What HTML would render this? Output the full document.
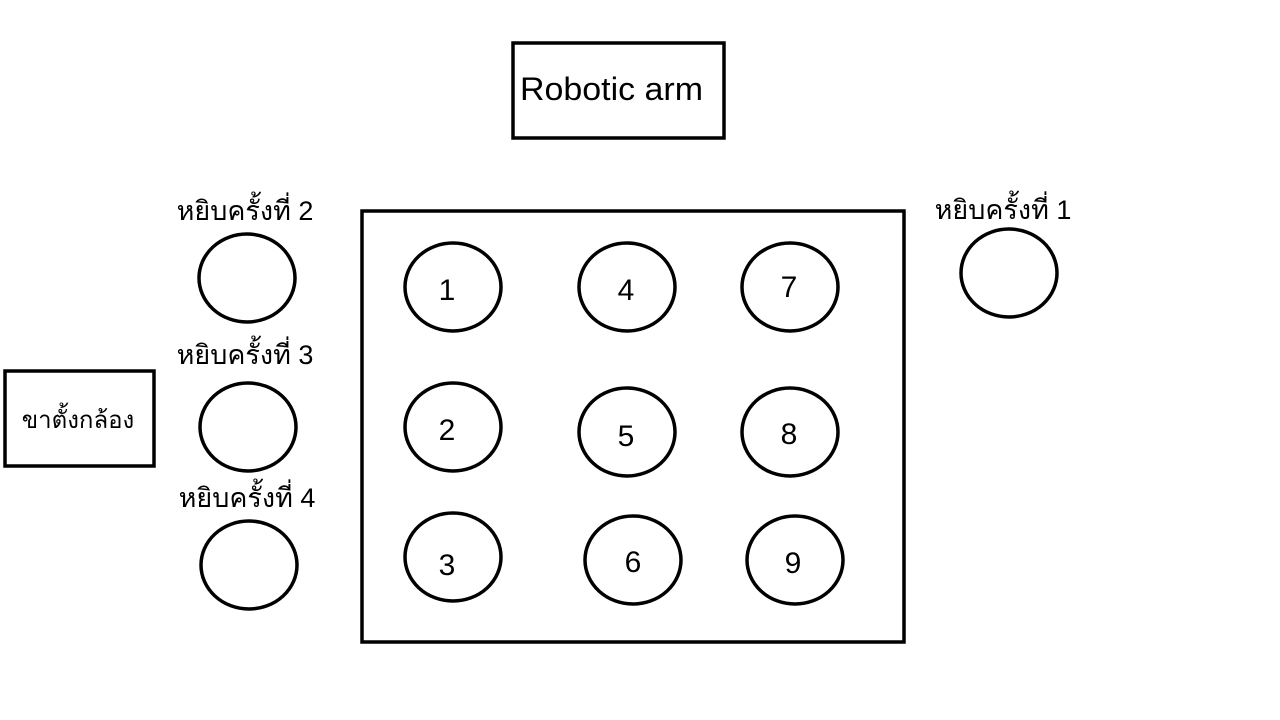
<!DOCTYPE html>
<html><head><meta charset="utf-8"><style>
html,body{margin:0;padding:0;background:#fff;}
svg{display:block;font-family:"Liberation Sans","DejaVu Sans",sans-serif;}
</style></head><body>
<svg width="1280" height="720" viewBox="0 0 1280 720">
<g fill="none" stroke="#000" stroke-width="3.5">
<rect x="513" y="43" width="211" height="95"/>
<rect x="362" y="211" width="542" height="431"/>
<rect x="5" y="371" width="149" height="95"/>
<ellipse cx="453" cy="287" rx="48" ry="44"/>
<ellipse cx="627" cy="287" rx="48" ry="44"/>
<ellipse cx="790" cy="287" rx="48" ry="44"/>
<ellipse cx="453" cy="427" rx="48" ry="44"/>
<ellipse cx="627" cy="432" rx="48" ry="44"/>
<ellipse cx="790" cy="432" rx="48" ry="44"/>
<ellipse cx="453" cy="557" rx="48" ry="44"/>
<ellipse cx="633" cy="560" rx="48" ry="44"/>
<ellipse cx="795" cy="560" rx="48" ry="44"/>
<ellipse cx="247" cy="278" rx="48" ry="44"/>
<ellipse cx="248" cy="427" rx="48" ry="44"/>
<ellipse cx="249" cy="565" rx="48" ry="44"/>
<ellipse cx="1009" cy="273" rx="48" ry="44"/>
</g>
<g fill="#000" font-size="30" text-anchor="middle">
<text x="520" y="100" font-size="32" text-anchor="start" textLength="183" lengthAdjust="spacingAndGlyphs">Robotic arm</text>
<text x="447" y="300">1</text>
<text x="626" y="300">4</text>
<text x="789" y="297">7</text>
<text x="447" y="440">2</text>
<text x="626" y="446">5</text>
<text x="789" y="444">8</text>
<text x="447" y="575">3</text>
<text x="633" y="572">6</text>
<text x="793" y="573">9</text>
</g>
<g fill="#000" font-size="27" text-anchor="middle">
<text x="245" y="220">หยิบครั้งที่ 2</text>
<text x="245" y="364">หยิบครั้งที่ 3</text>
<text x="247" y="507">หยิบครั้งที่ 4</text>
<text x="1003" y="219">หยิบครั้งที่ 1</text>
<text x="78" y="428" font-size="24">ขาตั้งกล้อง</text>
</g>
</svg>
</body></html>
